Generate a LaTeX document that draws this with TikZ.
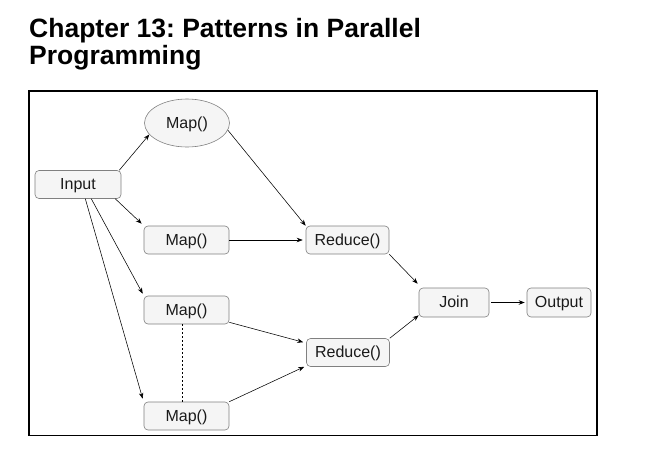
\documentclass[tikz,border=0pt]{standalone}
\usepackage{fontspec}
\setmainfont{Liberation Sans}
\usetikzlibrary{arrows.meta,shapes.geometric}
\frenchspacing
\definecolor{boxfill}{HTML}{F5F5F5}
\definecolor{boxline}{HTML}{808080}
\definecolor{txt}{HTML}{1A1A1A}
\tikzset{
  box/.style={draw=boxline, fill=boxfill, rounded corners=4pt, line width=0.6pt,
    minimum width=85pt, minimum height=28pt, inner sep=0pt, text=txt,
    text height=14pt, text depth=3.5pt,
    font=\fontsize{16}{18}\selectfont},
  oval/.style={ellipse, draw=boxline, fill=boxfill, line width=0.6pt,
    minimum width=85pt, minimum height=48pt, inner sep=0pt, text=txt,
    text height=14pt, text depth=3.5pt,
    font=\fontsize{16}{18}\selectfont},
  conn/.style={line width=0.55pt, -{Stealth[length=6pt,width=4.5pt]}},
  title/.style={anchor=base west, inner sep=0pt, text=black,
    font=\bfseries\fontsize{26.5}{28}\selectfont}
}
\begin{document}
\begin{tikzpicture}[x=1pt,y=-1pt]
\useasboundingbox (0,0) rectangle (652,458);
\node[title] (t1) at (29,37) {Chapter 13: Patterns in Parallel};
\node[title] (t2) at (29,64) {Programming};
\draw[line width=1.6pt] (29,91) rectangle (597,435.5);

\node[box, minimum width=86pt] (input) at (78,184.5) {Input};
\node[oval] (map1) at (187,123) {Map()};
\node[box] (map2) at (186.5,240) {Map()};
\node[box] (map3) at (186.5,310) {Map()};
\node[box] (map4) at (186.5,416) {Map()};
\node[box, minimum width=83pt] (red1) at (347.5,240) {Reduce()};
\node[box, minimum width=83pt] (red2) at (348,352.5) {Reduce()};
\node[box, minimum width=70pt, minimum height=29pt] (join) at (454,302.5) {Join};
\node[box, minimum width=64pt, minimum height=29pt] (out) at (559,302.5) {Output};

\draw[conn] ([xshift=-2pt]input.north east) -- (map1.197);
\draw[conn] ([xshift=-6pt]input.south east) -- ([xshift=-2pt,yshift=2pt]map2.north west);
\draw[conn] ([xshift=-30pt]input.south east) -- ([xshift=-1pt,yshift=2pt]map3.north west);
\draw[conn] ([xshift=-36pt]input.south east) -- ([xshift=-1pt,yshift=3pt]map4.north west);

\draw[conn] (map1.-10) -- (red1.north west);
\draw[conn] (map2.east) -- ([xshift=-3pt]red1.west);
\draw[conn] ([yshift=2pt]map3.south east) -- ([xshift=-3pt,yshift=-4pt]red2.north west);
\draw[conn] (map4.north east) -- ([xshift=-2pt]red2.south west);
\draw[conn] (red1.south east) -- ([xshift=-1pt,yshift=4pt]join.north west);
\draw[conn] (red2.north east) -- ([yshift=2pt]join.south west);
\draw[conn] ([xshift=2pt]join.east) -- ([xshift=-2pt]out.west);

\draw[dashed, line width=0.55pt, dash pattern=on 2pt off 2pt] ([xshift=-4.5pt]map3.south) -- ([xshift=-4.5pt]map4.north);
\end{tikzpicture}
\end{document}
